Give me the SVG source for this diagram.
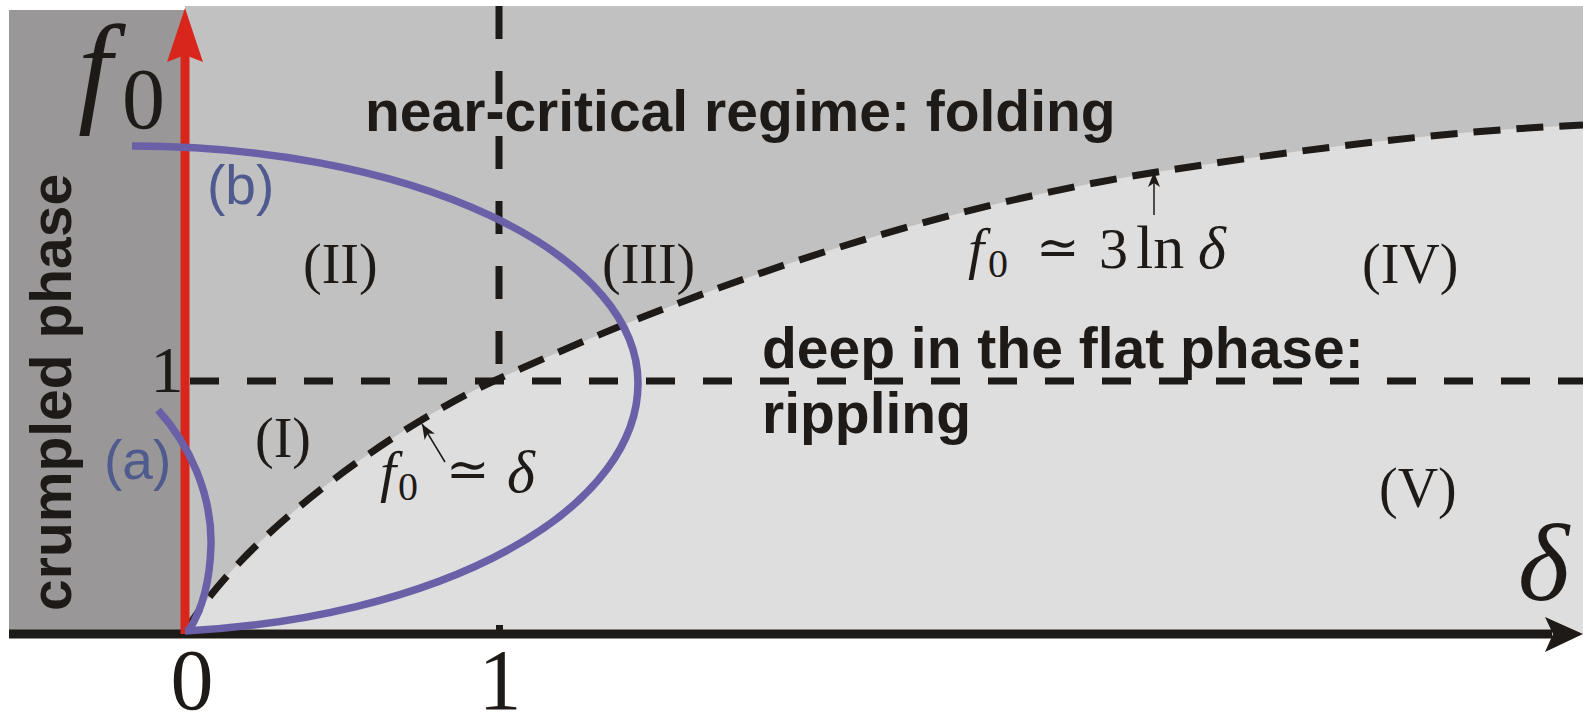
<svg xmlns="http://www.w3.org/2000/svg" width="1583" height="714" viewBox="0 0 1583 714">
<style>
.bold{font-family:"Liberation Sans",Arial,sans-serif;font-weight:bold;font-size:57px;fill:#1e1a17}
.rom{font-family:"Liberation Serif","Times New Roman",serif;font-size:56px;fill:#1e1a17}
.it{font-family:"Liberation Serif","Times New Roman",serif;font-style:italic;fill:#1e1a17}
.up{font-family:"Liberation Serif","Times New Roman",serif;fill:#1e1a17}
.sym{font-family:"DejaVu Serif","Liberation Serif",serif;fill:#1e1a17}
.lab{font-family:"Liberation Sans",Arial,sans-serif;font-size:55px;fill:#4f5a8e}
.dash{fill:none;stroke:#1e1a17;stroke-width:7}
.purple{fill:none;stroke:#6a60a8;stroke-width:7.5}
</style>
<defs>
<marker id="sm" markerUnits="userSpaceOnUse" markerWidth="16" markerHeight="12" refX="15" refY="6" orient="auto">
<path d="M0,0 L15,6 L0,12 L4,6 Z" fill="#1e1a17"/>
</marker>
</defs>
<rect width="1583" height="714" fill="#ffffff"/>
<g id="regions">
<rect x="9" y="10" width="177" height="624" fill="#999797"/>
<rect x="185" y="6" width="1398" height="628" fill="#c1c1c1"/>
<path d="M185,632 C245,532 396,426 496,380 C716,279 937,207 1157,172 C1297,150 1443,131 1583,125 L1583,634 L185,634 Z" fill="#dedede"/>
</g>
<g id="connectors">
<path class="dash" d="M185,632 C245,532 396,426 496,380 C716,279 937,207 1157,172 C1297,150 1443,131 1583,125" stroke-dasharray="27 16"/>
<line class="dash" x1="499" y1="6" x2="499" y2="378" stroke-dasharray="33 32"/>
<rect x="496" y="625" width="7" height="5" fill="#1e1a17"/>
<line class="dash" x1="190" y1="381" x2="1583" y2="381" stroke-dasharray="29 28"/>
<line x1="9" y1="634" x2="1552" y2="634" stroke="#1e1a17" stroke-width="9"/>
<path d="M1583,634 L1545,617 L1553,634 L1545,652 Z" fill="#1e1a17"/>
<line x1="185" y1="634" x2="185" y2="55" stroke="#d9261c" stroke-width="9"/>
<path d="M185,8 L203,62 L185,55 L167,62 Z" fill="#d9261c"/>
<path class="purple" d="M132,146 A506 237 0 0 1 638,383 A506 249 0 0 1 185,631"/>
<path class="purple" d="M158,410 C190,445 212,495 211,545 C210,580 202,610 189,630"/>
<line x1="445" y1="462" x2="422" y2="424" stroke="#1e1a17" stroke-width="1.5" marker-end="url(#sm)"/>
<line x1="1154" y1="215" x2="1154" y2="172" stroke="#1e1a17" stroke-width="1.5" marker-end="url(#sm)"/>
</g>
<g id="axis-labels">
<text class="it" x="78" y="110" font-size="122">f</text>
<text class="up" x="122" y="128" font-size="86">0</text>
<text class="it" x="1518" y="600" font-size="110">δ</text>
<text class="up" x="192" y="709" font-size="86" text-anchor="middle">0</text>
<text class="up" x="500" y="709" font-size="86" text-anchor="middle">1</text>
<text class="up" x="167" y="392" font-size="66" text-anchor="middle">1</text>
</g>
<g id="crumpled">
<text class="bold" transform="translate(71,611) rotate(-90)">crumpled phase</text>
</g>
<g id="folding">
<text class="bold" x="365" y="131">near-critical regime: folding</text>
</g>
<g id="rippling">
<text class="bold" x="762" y="368">deep in the flat phase:</text>
<text class="bold" x="762" y="433">rippling</text>
</g>
<g id="regions-labels">
<text class="rom" x="303" y="283">(II)</text>
<text class="rom" x="255" y="457">(I)</text>
<text class="rom" x="602" y="283">(III)</text>
<text class="rom" x="1362" y="283">(IV)</text>
<text class="rom" x="1379" y="507">(V)</text>
</g>
<g id="curve-labels">
<text class="lab" x="207" y="204">(b)</text>
<text class="lab" x="104" y="479">(a)</text>
</g>
<g id="eq1">
<text class="it" x="380" y="491" font-size="58">f</text>
<text class="up" x="398" y="500" font-size="40">0</text>
<text class="sym" x="446" y="487" font-size="52">≃</text>
<text class="it" x="507" y="492" font-size="60">δ</text>
</g>
<g id="eq2">
<text class="it" x="968" y="268" font-size="58">f</text>
<text class="up" x="988" y="277" font-size="40">0</text>
<text class="sym" x="1036" y="265" font-size="52">≃</text>
<text class="up" x="1099" y="268" font-size="58">3</text>
<text class="up" x="1136" y="268" font-size="62">ln</text>
<text class="it" x="1198" y="268" font-size="60">δ</text>
</g>
</svg>
